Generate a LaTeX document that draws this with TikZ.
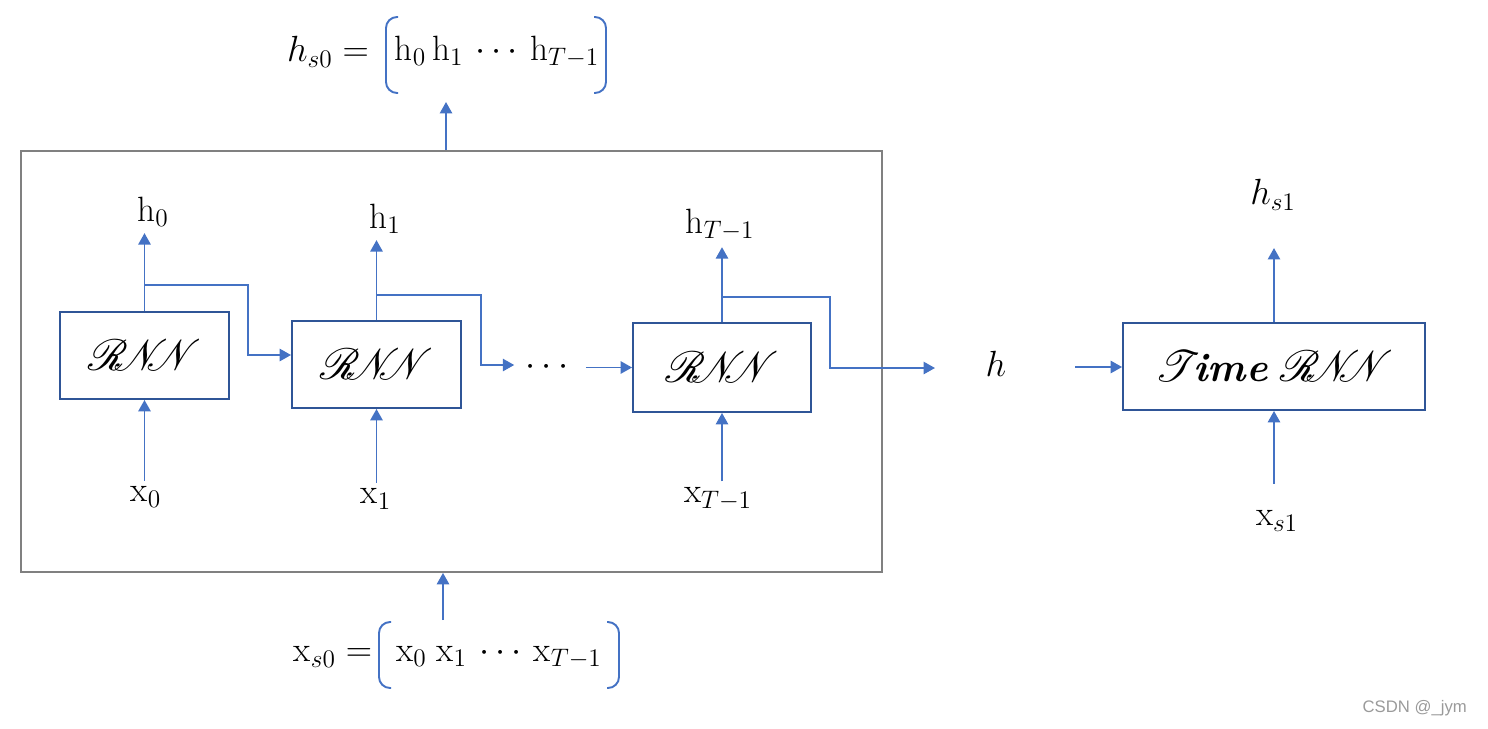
\documentclass[tikz,border=0pt]{standalone}
\usepackage{amsmath,amssymb}
\usepackage{mathrsfs}
\usepackage{fontspec}
\usepackage{tikz}
\usetikzlibrary{calc,arrows.meta,positioning}
\newfontfamily\wmfont{Liberation Sans}
\definecolor{flow}{HTML}{4472C4}
\definecolor{edge}{HTML}{2F5597}
\definecolor{frame}{HTML}{808080}
\definecolor{wmgray}{HTML}{9A9A9A}
\newcommand{\rnnword}{$\mathscr{R}\!\!\mathscr{N}\!\!\!\mathscr{N}$}
\tikzset{
  arr/.style={draw=flow, line width=1.1pt, -{Triangle[length=6.5pt,width=7pt]}},
  outer/.style={draw=frame, line width=1.1pt},
  cell/.style={draw=edge, line width=1.1pt, minimum width=3.38cm, minimum height=1.74cm, font=\fontsize{23}{26}\selectfont},
  lbl/.style={font=\fontsize{20}{24}\selectfont},
  brk/.style={draw=flow, line width=1.1pt, rounded corners=0.22cm},
  wm/.style={text=wmgray, font=\wmfont\fontsize{9.5}{11}\selectfont, anchor=east}
}

\begin{document}
\begin{tikzpicture}[x=0.02cm, y=-0.02cm]
  \useasboundingbox (0,0) rectangle (1488,728);

  \node[outer, minimum width=17.22cm, minimum height=8.42cm] (enc) at (451.5,361.5) {};

  \node[cell] (c0) at (144.5,355.5) {\rnnword};
  \node[cell] (c1) at (376.5,364.5) {\rnnword};
  \node[cell, minimum width=3.56cm, minimum height=1.78cm] (c2) at (722,367.5) {\rnnword};
  \node[cell, minimum width=6.04cm] (tr) at (1274,366.5) {$\mathscr{T}$\!\textbf{\textit{ime}} \rnnword};

  \node[lbl] (h0) at (153,212) {$\mathrm{h}_0$};
  \node[lbl] (h1) at (385,219) {$\mathrm{h}_1$};
  \node[lbl] (hT) at (720,225) {$\mathrm{h}_{T-1}$};
  \node[lbl] (hs1) at (1273,195) {$h_{s1}$};
  \node[lbl] (x0) at (146,497) {$\mathrm{x}_0$};
  \node[lbl] (x1) at (376,499) {$\mathrm{x}_1$};
  \node[lbl] (xT) at (718,499) {$\mathrm{x}_{T-1}$};
  \node[lbl] (xs1) at (1277,521) {$\mathrm{x}_{s1}$};
  \node[lbl] (dots) at (550,367.5) {$\cdots$};
  \node[lbl] (h) at (996,364) {$h$};

  \node[lbl] (hs0) at (328,52) {$h_{s0}=$};
  \node[lbl] (hseq) at (497,52) {$\mathrm{h}_0\,\mathrm{h}_1\,\cdots\,\mathrm{h}_{T-1}$};
  \node[lbl] (xs0) at (333,657) {$\mathrm{x}_{s0}=$};
  \node[lbl] (xseq) at (499,657) {$\mathrm{x}_0\;\mathrm{x}_1\,\cdots\,\mathrm{x}_{T-1}$};

  % brackets
  \draw[brk] (398,17) -- (386,17) -- (386,93) -- (398,93);
  \draw[brk] (594,17) -- (606,17) -- (606,93) -- (594,93);
  \draw[brk] (391,622) -- (379,622) -- (379,688) -- (391,688);
  \draw[brk] (607,622) -- (619,622) -- (619,688) -- (607,688);

  \coordinate (j0) at (248,285);
  \coordinate (k0) at (248,355);
  \coordinate (j1) at (481,295);
  \coordinate (k1) at (481,365);
  \coordinate (j2) at (830,297);
  \coordinate (k2) at (830,368);
  \coordinate (hin) at (935,368);
  \coordinate (hout) at (1075,367);
  \coordinate (topc) at (446,102);
  \coordinate (botc) at (443,620);

  \draw[arr] (c0.north) -- (c0.north |- h0.south);
  \draw[arr] (c1.north) -- (c1.north |- h1.south);
  \draw[arr] (c2.north) -- (c2.north |- hT.south);
  \draw[arr] (tr.north) -- ++(0,-74);

  \draw[arr] (x0.north -| c0.south) -- (c0.south);
  \draw[arr] (x1.north -| c1.south) -- (c1.south);
  \draw[arr] (xT.north -| c2.south) -- (c2.south);
  \draw[arr] (tr.south) ++(0,73) -- (tr.south);

  \draw[arr] (c0.north |- j0) -- (j0) -- (k0) -- (c1.west |- k0);
  \draw[arr, shorten >=3pt] (c1.north |- j1) -- (j1) -- (k1) -- (dots.west |- k1);
  \draw[arr, shorten <=3pt] (dots) -- (c2);
  \draw[arr] (c2.north |- j2) -- (j2) -- (k2) -- (hin);
  \draw[arr] (hout) -- (tr.west |- hout);

  \draw[arr] (enc.north -| topc) -- (topc);
  \draw[arr] (botc) -- (enc.south -| botc);

  \node[wm] (mark) at (1473,708) {CSDN @\_jym};
\end{tikzpicture}
\end{document}
